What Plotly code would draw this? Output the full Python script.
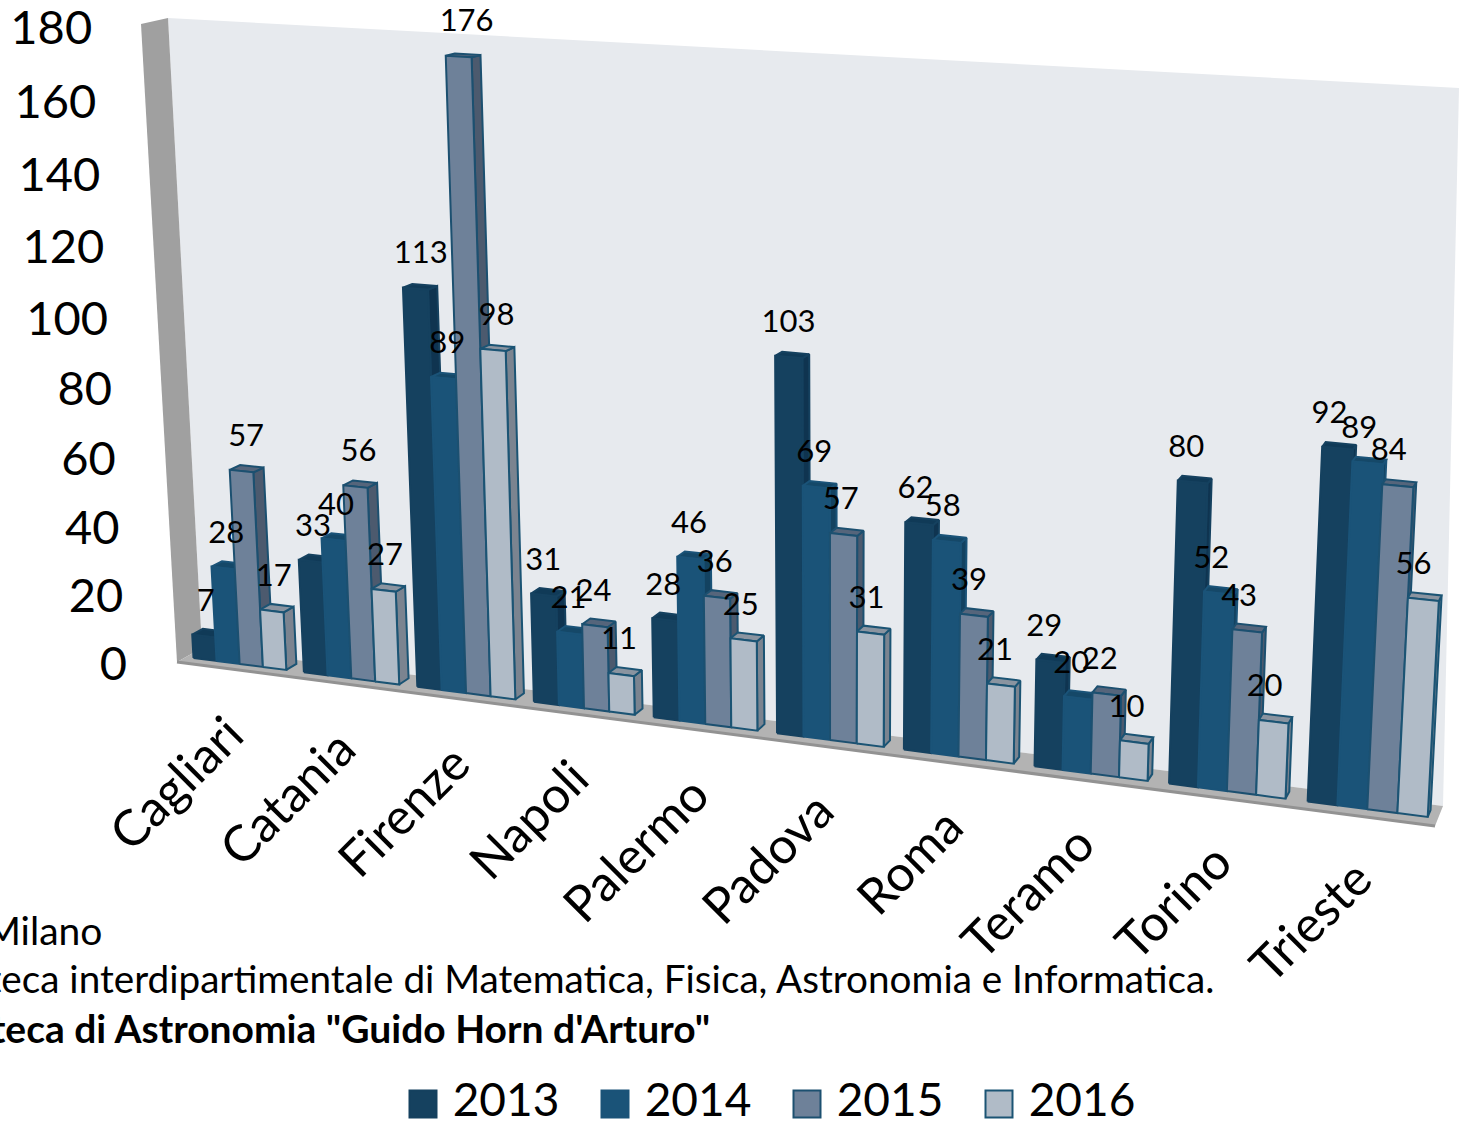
"""3D-look clustered columns drawn on a pixel-sized cartesian plane."""
import plotly.graph_objects as go

categories = ["Cagliari", "Catania", "Firenze", "Napoli", "Palermo",
              "Padova", "Roma", "Teramo", "Torino", "Trieste"]
years = ["2013", "2014", "2015", "2016"]
v2013 = [7, 33, 113, 31, 28, 103, 62, 29, 80, 92]
v2014 = [28, 40, 89, 21, 46, 69, 58, 20, 52, 89]
v2015 = [57, 56, 176, 24, 36, 57, 39, 22, 43, 84]
v2016 = [17, 27, 98, 11, 25, 31, 21, 10, 20, 56]
series = [v2013, v2014, v2015, v2016]
value_ticks = [0, 20, 40, 60, 80, 100, 120, 140, 160, 180]

FONT = "Lato"
# face, top, side, outline
colors = [("#15415f", "#103a57", "#0f3450", "#15415f"),
          ("#1a5378", "#154868", "#134260", "#1a5378"),
          ("#6e8199", "#55657b", "#4c5a6e", "#1c5070"),
          ("#b0bbc7", "#8a94a0", "#7b8490", "#1b5474")]

PITCH = 0.1016
GROUP = 0.0856
VP = (1882, -293)
DEPTH = 0.0063


def project(u, value):
    v = value / 100
    w = 1 - 0.1314 * u - 0.0286 * v
    return (193.5 + 1046.6 * u - 23.9 * v) / w, (658 + 51.6 * u - 352 * v) / w


def back(p):
    return p[0] + DEPTH * (VP[0] - p[0]), p[1] + DEPTH * (VP[1] - p[1])


def polys(list_of_points):
    xs, ys = [], []
    for pts in list_of_points:
        for p in pts + [pts[0]]:
            xs.append(p[0])
            ys.append(p[1])
        xs.append(None)
        ys.append(None)
    return xs, ys


fig = go.Figure()


def add_poly(points, fill, line):
    xs, ys = polys(points)
    fig.add_trace(go.Scatter(x=xs, y=ys, mode="lines", fill="toself", fillcolor=fill,
                             line=dict(color=line, width=2), hoverinfo="skip", showlegend=False))


for j, vals in enumerate(series):
    face, top, side, outline = colors[j]
    fronts, tops, sides = [], [], []
    for i, val in enumerate(vals):
        u0 = i * PITCH + j * GROUP / 4
        u1 = u0 + GROUP / 4
        bl, br = project(u0, 0), project(u1, 0)
        tl, tr = project(u0, val), project(u1, val)
        fronts.append([bl, br, tr, tl])
        tops.append([tl, tr, back(tr), back(tl)])
        sides.append([br, back(br), back(tr), tr])
    add_poly(sides, side, outline)
    add_poly(tops, top, outline)
    add_poly(fronts, face, outline)

# data labels
for j, vals in enumerate(series):
    xs, ys = [], []
    for i, val in enumerate(vals):
        x, y = project(i * PITCH + (j + 0.5) * GROUP / 4, val)
        lean = (-3 + 0.065 * val) * (1 - 0.7 * x / 1459)
        xs.append(x + 4 - 13 * (x - 240) / 1090 + lean)
        ys.append(y - 33)
    fig.add_trace(go.Scatter(x=xs, y=ys, mode="text", text=[str(v) for v in vals], cliponaxis=False,
                             textposition="middle center", hoverinfo="skip", showlegend=False,
                             textfont=dict(family=FONT, size=31, color="#000000")))

# value axis labels
tick_xy = [project(0, t) for t in value_ticks]
fig.add_trace(go.Scatter(x=[p[0] - 66.5 for p in tick_xy],
                         y=[p[1] + 10 - 0.02 * t for p, t in zip(tick_xy, value_ticks)],
                         mode="text", text=[str(t) for t in value_ticks], cliponaxis=False,
                         textposition="middle left", hoverinfo="skip", showlegend=False,
                         textfont=dict(family=FONT, size=47, color="#000000")))

# category labels
for i, cat in enumerate(categories):
    x, y = project(i * PITCH + GROUP / 2, 0)
    fig.add_annotation(x=x + 16.5, y=y + 38, text=cat, textangle=-45, showarrow=False,
                       xanchor="right", yanchor="top", borderpad=0,
                       font=dict(family=FONT, size=50, color="#000000"))

# source lines, cut by the left page edge
fig.add_annotation(x=104, y=930, text="Università degli Studi di Milano", showarrow=False,
                   xanchor="right", yanchor="middle", font=dict(family=FONT, size=39, color="#000000"))
fig.add_annotation(x=1216, y=978, text="Biblioteca interdipartimentale di Matematica, Fisica, Astronomia e Informatica.",
                   showarrow=False, xanchor="right", yanchor="middle",
                   font=dict(family=FONT, size=38.7, color="#000000"))
fig.add_annotation(x=712, y=1028, text="<b>Biblioteca di Astronomia \"Guido Horn d'Arturo\"</b>",
                   showarrow=False, xanchor="right", yanchor="middle",
                   font=dict(family=FONT, size=39, color="#000000"))

# legend entries
for j, year in enumerate(years):
    fig.add_trace(go.Scatter(x=[423 + 192 * j], y=[1104], mode="markers+text", name=year,
                             text=[" " + year], textposition="middle right", hoverinfo="skip",
                             cliponaxis=False,
                             textfont=dict(family=FONT, size=46, color="#000000"),
                             marker=dict(symbol="square", size=27, color=colors[j][0],
                                         line=dict(color=colors[j][3], width=2))))

wall = "M168,18 L1459,88 L1443,806 L202,648 Z"
left_wall = "M141,24 L168,18 L202,648 L177,662 Z"
floor = "M177,662 L202,648 L1443,806 L1435,826 Z"
fig.update_layout(
    width=1459, height=1123, margin=dict(l=0, r=0, t=0, b=0, autoexpand=False),
    paper_bgcolor="#ffffff", plot_bgcolor="#ffffff", showlegend=False,
    xaxis=dict(range=[0, 1459], visible=False, fixedrange=True),
    yaxis=dict(range=[1123, 0], visible=False, fixedrange=True),
    shapes=[
        dict(type="path", path=wall, fillcolor="#e7eaee", line=dict(width=0), layer="below"),
        dict(type="path", path=left_wall, fillcolor="#a0a0a0", line=dict(width=0), layer="below"),
        dict(type="path", path=floor, fillcolor="#b3b3b3", line=dict(width=0), layer="below"),
        dict(type="line", x0=177, y0=662, x1=1435, y1=826, line=dict(color="#929292", width=3), layer="below"),
    ],
)

fig.write_html("out.html", config={"displayModeBar": False},
               post_script="document.body.style.margin='0';")
